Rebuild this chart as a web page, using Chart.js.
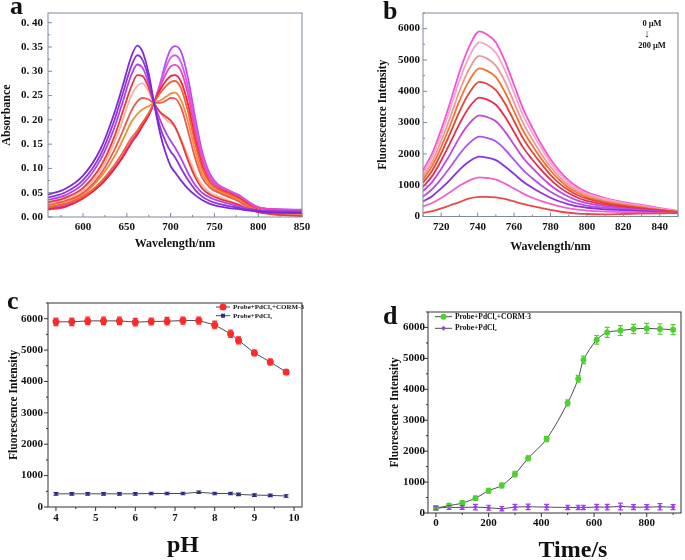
<!DOCTYPE html>
<html>
<head>
<meta charset="utf-8">
<title>Probe spectra</title>
<script src="https://cdn.jsdelivr.net/npm/chart.js@4.4.1/dist/chart.umd.min.js"></script>
<style>
  body { margin: 0; background: #fff; }
  #wrap { position: relative; width: 685px; height: 560px; overflow: hidden; background: #fff; }
  #wrap canvas { position: absolute; left: 0; top: 0; }
  .tag { position: absolute; font: bold 26px 'Liberation Serif', serif; line-height: 1; color: #111; }
  .note { position: absolute; width: 44px; text-align: center; font: bold 8.5px 'Liberation Serif', serif; line-height: 1; color: #111; }
  .xtitle { position: absolute; text-align: center; font: bold 24px 'Liberation Serif', serif; line-height: 1; color: #111; }
</style>
</head>
<body>
<div id="wrap">
  <canvas id="chartA" width="685" height="560"></canvas>
  <canvas id="chartB" width="685" height="560"></canvas>
  <canvas id="chartC" width="685" height="560"></canvas>
  <canvas id="chartD" width="685" height="560"></canvas>
  <div class="tag" style="left:10px;top:-7px">a</div>
  <div class="tag" style="left:383px;top:-2px">b</div>
  <div class="tag" style="left:7px;top:288px">c</div>
  <div class="tag" style="left:383px;top:303px">d</div>
  <div class="note" style="left:630px;top:19px">0 μM</div>
  <div class="note" style="left:625px;top:28px;font-size:11px">↓</div>
  <div class="note" style="left:630px;top:41px">200 μM</div>
  <div class="xtitle" style="left:143px;top:532px;width:80px">pH</div>
  <div class="xtitle" style="left:523px;top:537px;width:100px">Time/s</div>
</div>
<script>
// ---- panel a: absorbance spectra ----
const wavelengthA = [560, 580, 600, 620, 635, 645, 655, 662, 668, 675, 681, 688, 695, 700, 705, 712, 720, 728, 736, 745, 755, 765, 778, 790, 800, 820, 850];
const absA1 = [.046, .058, .085, .14, .21, .268, .33, .353, .34, .295, .235, .172, .128, .105, .092, .075, .058, .045, .035, .027, .022, .019, .016, .013, .011, .009, .008];
const absA2 = [.04, .051, .076, .128, .195, .252, .31, .333, .323, .285, .235, .185, .152, .135, .123, .1, .076, .056, .042, .033, .027, .023, .019, .015, .013, .011, .01];
const absA3 = [.035, .045, .068, .118, .18, .235, .292, .314, .307, .275, .235, .2, .172, .157, .143, .12, .09, .066, .05, .04, .033, .028, .022, .017, .014, .013, .012];
const absA4 = [.03, .04, .06, .104, .162, .215, .268, .292, .29, .266, .235, .216, .206, .199, .186, .156, .116, .082, .059, .046, .038, .032, .025, .015, .01, .005, .002];
const absA5 = [.028, .037, .055, .096, .15, .198, .25, .27, .275, .258, .235, .215, .2, .193, .185, .16, .125, .09, .066, .05, .042, .035, .026, .016, .01, .005, .003];
const absA6 = [.026, .034, .05, .088, .135, .175, .218, .238, .245, .242, .235, .235, .24, .245, .244, .225, .176, .121, .081, .06, .05, .042, .032, .018, .012, .006, .003];
const absA7 = [.024, .032, .047, .082, .122, .157, .195, .212, .222, .228, .235, .24, .248, .254, .256, .24, .196, .136, .09, .065, .053, .045, .035, .02, .013, .006, .003];
const absA8 = [.021, .028, .042, .072, .105, .132, .162, .178, .195, .214, .235, .255, .27, .278, .28, .265, .216, .151, .1, .07, .056, .048, .037, .022, .014, .006, .003];
const absA9 = [.016, .022, .038, .066, .097, .122, .152, .17, .188, .21, .235, .262, .281, .29, .292, .278, .231, .161, .106, .072, .058, .05, .039, .024, .015, .007, .004];
const absA10 = [.015, .021, .039, .066, .098, .123, .153, .171, .189, .21, .235, .268, .296, .31, .313, .3, .251, .176, .116, .078, .062, .053, .042, .028, .02, .016, .014];
const absA11 = [.017, .023, .041, .067, .099, .124, .154, .172, .19, .21, .235, .272, .31, .328, .333, .318, .266, .19, .125, .083, .064, .055, .044, .03, .02, .016, .014];
const absA12 = [.02, .026, .043, .069, .1, .125, .155, .173, .19, .21, .235, .275, .322, .345, .352, .34, .285, .205, .135, .088, .066, .056, .045, .03, .02, .016, .015];
const seriesA = [absA1, absA2, absA3, absA4, absA5, absA6, absA7, absA8, absA9, absA10, absA11, absA12];
const colorsA = ['#7b2ad6', '#9234de', '#b244e4', '#e63a3c', '#f6b498', '#ea5a52', '#f08c3a', '#f2642e', '#f0243e', '#f044ba', '#d858ea', '#b84ef2'];

// ---- panel b: fluorescence spectra, 0 -> 200 uM ----
const wavelengthB = [710, 715, 720, 725, 730, 735, 741, 745, 750, 755, 760, 765, 770, 775, 780, 785, 790, 795, 800, 810, 820, 830, 840, 850];
const fluB1 = [110, 170, 260, 360, 460, 570, 625, 630, 610, 560, 480, 400, 330, 270, 210, 160, 120, 90, 80, 70, 80, 90, 100, 110];
const fluB2 = [320, 430, 590, 780, 980, 1140, 1250, 1230, 1180, 1050, 890, 730, 600, 490, 400, 320, 260, 220, 190, 160, 140, 130, 120, 100];
const fluB3 = [480, 650, 900, 1180, 1490, 1740, 1910, 1880, 1800, 1600, 1360, 1110, 920, 750, 600, 480, 390, 320, 280, 230, 200, 170, 140, 110];
const fluB4 = [640, 870, 1200, 1580, 1990, 2320, 2550, 2510, 2400, 2140, 1810, 1480, 1220, 990, 790, 630, 500, 410, 350, 280, 230, 190, 150, 120];
const fluB5 = [810, 1100, 1520, 2000, 2520, 2940, 3230, 3180, 3040, 2710, 2290, 1870, 1550, 1260, 1000, 790, 630, 510, 430, 330, 260, 210, 160, 120];
const fluB6 = [950, 1290, 1790, 2360, 2960, 3460, 3800, 3740, 3570, 3190, 2700, 2200, 1820, 1480, 1180, 930, 740, 600, 500, 380, 300, 240, 180, 130];
const fluB7 = [1080, 1460, 2020, 2670, 3350, 3910, 4300, 4240, 4040, 3610, 3050, 2490, 2060, 1680, 1330, 1050, 840, 680, 570, 430, 340, 270, 200, 140];
const fluB8 = [1180, 1610, 2220, 2930, 3690, 4300, 4730, 4660, 4450, 3970, 3360, 2740, 2270, 1840, 1470, 1160, 920, 750, 620, 470, 370, 290, 210, 150];
const fluB9 = [1280, 1740, 2410, 3180, 4000, 4670, 5130, 5050, 4820, 4310, 3640, 2980, 2460, 2000, 1590, 1260, 1000, 810, 680, 510, 400, 320, 230, 160];
const fluB10 = [1390, 1890, 2610, 3450, 4340, 5060, 5560, 5480, 5230, 4670, 3950, 3220, 2670, 2170, 1720, 1360, 1080, 880, 730, 560, 430, 345, 250, 170];
const fluB11 = [1480, 2010, 2780, 3660, 4610, 5380, 5910, 5820, 5560, 4960, 4200, 3430, 2840, 2300, 1830, 1450, 1150, 930, 780, 590, 460, 370, 270, 180];
const seriesB = [fluB1, fluB2, fluB3, fluB4, fluB5, fluB6, fluB7, fluB8, fluB9, fluB10, fluB11];
const colorsB = ['#e8484a', '#f062c8', '#8a32e0', '#b052ec', '#c444dc', '#e0304e', '#e84238', '#f07430', '#f09898', '#f8a4c8', '#f252d8'];

// ---- panel c: pH dependence ----
const phValues = [4, 4.4, 4.8, 5.2, 5.6, 6, 6.4, 6.8, 7.2, 7.6, 8, 8.4, 8.6, 9, 9.4, 9.8];
const phCorm = [5900, 5900, 5930, 5930, 5930, 5890, 5910, 5920, 5940, 5940, 5800, 5520, 5310, 4910, 4620, 4300];
const phCormErr = [120, 120, 120, 120, 120, 120, 110, 120, 110, 110, 120, 120, 110, 90, 90, 80];
const phPd = [420, 420, 420, 420, 420, 420, 430, 430, 430, 470, 430, 430, 400, 380, 370, 350];
const phPdErr = [40, 40, 40, 40, 40, 40, 40, 40, 40, 40, 40, 40, 40, 40, 40, 40];

// ---- panel d: time course ----
const timeValues = [0, 50, 100, 150, 200, 250, 300, 350, 420, 500, 540, 560, 610, 650, 700, 750, 800, 850, 900];
const timeCorm = [160, 240, 320, 480, 720, 890, 1260, 1770, 2390, 3560, 4340, 4950, 5600, 5840, 5900, 5950, 5970, 5950, 5930];
const timeCormErr = [60, 60, 70, 70, 80, 80, 90, 80, 80, 100, 110, 120, 140, 160, 160, 150, 160, 170, 160];
const timePd = [160, 180, 180, 190, 170, 140, 190, 200, 190, 180, 180, 180, 190, 190, 210, 190, 190, 200, 190];
const timePdErr = [60, 60, 60, 90, 80, 70, 90, 90, 90, 70, 70, 70, 90, 90, 110, 80, 80, 100, 80];

const legendNames = ['Probe+PdCl₂+CORM-3', 'Probe+PdCl₂'];

// tick labels
const ticksAx = [600, 650, 700, 750, 800, 850];
const ticksAy = [0, 0.05, 0.10, 0.15, 0.20, 0.25, 0.30, 0.35, 0.40];
const ticksBx = [720, 740, 760, 780, 800, 820, 840];
const ticksIntensity = [0, 1000, 2000, 3000, 4000, 5000, 6000];
const ticksCx = [4, 5, 6, 7, 8, 9, 10];
const ticksDx = [0, 200, 400, 600, 800];

Chart.defaults.font.family = "'Liberation Serif', 'Times New Roman', serif";
Chart.defaults.font.weight = 'bold';
Chart.defaults.color = '#111';

const pts = (xs, ys) => xs.map((x, i) => ({ x: x, y: ys[i] }));

function minorOf(ticks, min, max) {
  const out = [];
  const step = ticks[1] - ticks[0];
  for (let v = ticks[0] - step / 2; v <= max; v += step) {
    if (v >= min) out.push(v);
  }
  return out;
}

// box around plot + tick marks
const frame = {
  id: 'frame',
  afterDraw(chart, args, o) {
    const { ctx, chartArea: a } = chart;
    const xs = chart.scales.x, ys = chart.scales.y;
    ctx.save();
    ctx.strokeStyle = o.color;
    ctx.lineWidth = o.width;
    ctx.strokeRect(a.left, a.top, a.right - a.left, a.bottom - a.top);
    const dir = o.inside ? -1 : 1;
    const mark = (scale, v, len) => {
      const p = scale.getPixelForValue(v);
      ctx.beginPath();
      if (scale.isHorizontal()) { ctx.moveTo(p, a.bottom); ctx.lineTo(p, a.bottom + dir * len); }
      else { ctx.moveTo(a.left, p); ctx.lineTo(a.left - dir * len, p); }
      ctx.stroke();
    };
    [xs, ys].forEach(s => {
      const major = s.ticks.map(t => t.value);
      major.forEach(v => mark(s, v, o.len));
      minorOf(major, s.min, s.max).forEach(v => mark(s, v, o.len / 2));
    });
    ctx.restore();
  }
};

const errorBars = {
  id: 'errorBars',
  afterDatasetsDraw(chart) {
    const { ctx } = chart;
    const ys = chart.scales.y;
    chart.data.datasets.forEach((ds, i) => {
      if (!ds.errors) return;
      const meta = chart.getDatasetMeta(i);
      ctx.save();
      ctx.strokeStyle = ds.pointBackgroundColor;
      ctx.lineWidth = 1.2;
      meta.data.forEach((pt, j) => {
        const v = ds.data[j].y, e = ds.errors[j];
        const t = ys.getPixelForValue(v + e), b = ys.getPixelForValue(v - e);
        ctx.beginPath();
        ctx.moveTo(pt.x, t); ctx.lineTo(pt.x, b);
        ctx.moveTo(pt.x - 2.5, t); ctx.lineTo(pt.x + 2.5, t);
        ctx.moveTo(pt.x - 2.5, b); ctx.lineTo(pt.x + 2.5, b);
        ctx.stroke();
      });
      ctx.restore();
    });
  }
};

// Origin style legend: line with the marker in its middle
const lineLegend = {
  id: 'lineLegend',
  afterDraw(chart, args, o) {
    if (!o.x) return;
    const { ctx } = chart;
    ctx.save();
    ctx.font = 'bold ' + o.size + "px 'Liberation Serif', serif";
    ctx.textBaseline = 'middle';
    chart.data.datasets.forEach((ds, i) => {
      const y = o.y + i * o.dy;
      ctx.strokeStyle = ds.borderColor;
      ctx.lineWidth = 1;
      ctx.beginPath(); ctx.moveTo(o.x, y); ctx.lineTo(o.x + o.len, y); ctx.stroke();
      const cx = o.x + o.len / 2, r = ds.pointRadius;
      ctx.fillStyle = ds.pointBackgroundColor;
      ctx.beginPath();
      if (ds.pointStyle === 'circle') ctx.arc(cx, y, r, 0, Math.PI * 2);
      else if (ds.pointStyle === 'rectRot') { ctx.moveTo(cx, y - r); ctx.lineTo(cx + r, y); ctx.lineTo(cx, y + r); ctx.lineTo(cx - r, y); ctx.closePath(); }
      else ctx.rect(cx - r, y - r, r * 2, r * 2);
      ctx.fill();
      ctx.fillStyle = '#111';
      ctx.fillText(ds.label, o.x + o.len + 3, y);
    });
    ctx.restore();
  }
};

function axis(o) {
  return {
    type: 'linear', min: o.min, max: o.max,
    grid: { display: false, drawTicks: false },
    border: { display: false },
    ticks: {
      padding: o.pad, autoSkip: false, maxRotation: 0, color: '#111',
      font: { size: 11, weight: 'bold' },
      callback: o.fmt || (v => String(v))
    },
    afterBuildTicks: s => { s.ticks = o.ticks.map(v => ({ value: v })); },
    afterFit: s => { if (s.isHorizontal()) s.height = o.size; else s.width = o.size; },
    title: {
      display: !!o.title, text: o.title || '', color: '#111', padding: 0,
      font: { size: o.titleSize, weight: 'bold', lineHeight: 1 }
    }
  };
}

function makeChart(id, datasets, pad, xAxis, yAxis, frameOpts, legendOpts) {
  return new Chart(document.getElementById(id), {
    type: 'line',
    data: { datasets: datasets },
    options: {
      responsive: false,
      animation: false,
      events: [],
      layout: { padding: pad },
      scales: { x: xAxis, y: yAxis },
      plugins: {
        legend: { display: false },
        tooltip: { enabled: false },
        frame: frameOpts,
        lineLegend: legendOpts || {}
      }
    },
    plugins: [frame, errorBars, lineLegend]
  });
}

const spectrum = (xs, ys, color) => ({
  data: pts(xs, ys), borderColor: color, borderWidth: 1.8,
  pointRadius: 0, tension: 0.4, cubicInterpolationMode: 'monotone', fill: false
});

// a
makeChart('chartA',
  seriesA.map((s, i) => spectrum(wavelengthA, s, colorsA[i])),
  { left: 1, top: 13, right: 383, bottom: 310.5 },
  axis({ min: 560, max: 850, ticks: ticksAx, pad: 4, size: 32.5, title: 'Wavelength/nm', titleSize: 12 }),
  axis({ min: 0, max: 0.42, ticks: ticksAy, pad: 5, size: 47, title: 'Absorbance', titleSize: 12,
         fmt: v => v.toFixed(2).replace('.', '. ') }),
  { color: '#7d8a98', width: 1, inside: true, len: 4 });

// b
makeChart('chartB',
  seriesB.map((s, i) => spectrum(wavelengthB, s, colorsB[i])),
  { left: 377.25, top: 13, right: 7, bottom: 306.8 },
  axis({ min: 710, max: 850, ticks: ticksBx, pad: 4, size: 36.7, title: 'Wavelength/nm', titleSize: 12 }),
  axis({ min: 0, max: 6500, ticks: ticksIntensity, pad: 3, size: 45.75, title: 'Fluorescence Intensity', titleSize: 11.5 }),
  { color: '#7d8a98', width: 1, inside: true, len: 4 });

const measured = (label, xs, ys, errs, color, style, r, tension) => ({
  label: label, data: pts(xs, ys), errors: errs,
  borderColor: '#464c56', borderWidth: 1, tension: tension,
  pointStyle: style, pointRadius: r, pointBackgroundColor: color, pointBorderColor: color, pointBorderWidth: 0
});

// c  (the big "pH" axis title is the .xtitle div)
makeChart('chartC', [
    measured(legendNames[0], phValues, phCorm, phCormErr, '#ff2a2a', 'circle', 3.5, 0),
    measured(legendNames[1], phValues, phPd, phPdErr, '#2c2c86', 'rect', 2, 0)
  ],
  { left: 8.25, top: 303, right: 383, bottom: 4.5 },
  axis({ min: 3.8, max: 10.2, ticks: ticksCx, pad: 5, size: 48.5 }),
  axis({ min: 0, max: 6500, ticks: ticksIntensity, pad: 5, size: 39.75, title: 'Fluorescence Intensity', titleSize: 11.5 }),
  { color: '#333', width: 1, inside: false, len: 4 },
  { x: 216, y: 307, dy: 8.7, len: 14, size: 7 });

// d  (the big "Time/s" axis title is the .xtitle div)
makeChart('chartD', [
    measured(legendNames[0], timeValues, timeCorm, timeCormErr, '#4cd22c', 'circle', 3, 0.3),
    measured(legendNames[1], timeValues, timePd, timePdErr, '#a03cf0', 'rectRot', 2.5, 0.3)
  ],
  { left: 389.25, top: 312, right: 3, bottom: 1.3 },
  axis({ min: -30, max: 930, ticks: ticksDx, pad: 4, size: 45.7 }),
  axis({ min: 0, max: 6500, ticks: ticksIntensity, pad: 3, size: 38.75, title: 'Fluorescence Intensity', titleSize: 11.5 }),
  { color: '#333', width: 1, inside: false, len: 4 },
  { x: 435, y: 316.7, dy: 11.6, len: 17, size: 7.5 });
</script>
</body>
</html>
